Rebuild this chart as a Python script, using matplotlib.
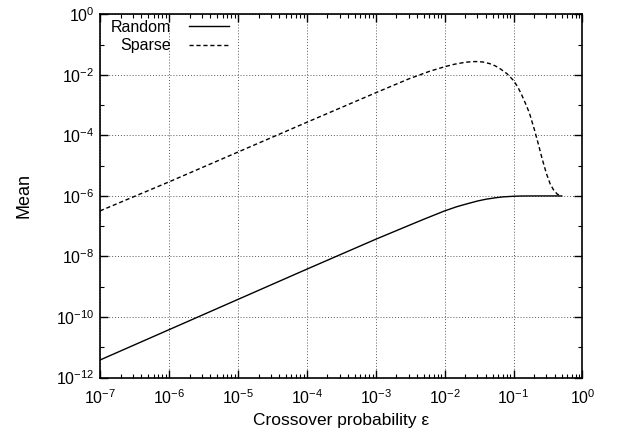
import matplotlib
matplotlib.use('Agg')
import matplotlib.pyplot as plt
from matplotlib.ticker import LogLocator, FixedLocator, NullFormatter

plt.rcParams['font.family'] = ['Liberation Sans', 'DejaVu Sans']
plt.rcParams['mathtext.default'] = 'regular'

# values (log-log plot)
random_x = [1e-7, 1e-6, 1e-5, 1e-4, 1e-3, 3e-3, 5e-3, 1e-2, 1.5e-2, 2e-2, 3e-2, 4e-2,
            5.5e-2, 7e-2, 0.1, 0.13, 0.2, 0.3, 0.5]
random_y = [3.8e-12, 3.8e-11, 3.8e-10, 3.8e-9, 3.7e-8, 1.05e-7, 1.7e-7, 3.2e-7, 4.4e-7,
            5.3e-7, 6.8e-7, 7.8e-7, 8.7e-7, 9.3e-7, 9.75e-7, 9.95e-7, 1e-6, 1e-6, 1e-6]

sparse_x = [1e-7, 1e-6, 1e-5, 1e-4, 1e-3, 3e-3, 6e-3, 1e-2, 1.4e-2, 2e-2, 2.5e-2, 3e-2,
            3.6e-2, 4.5e-2, 5.5e-2, 6.5e-2, 8e-2, 0.1, 0.115, 0.13, 0.15, 0.17, 0.2,
            0.23, 0.26, 0.3, 0.34, 0.38, 0.43, 0.48, 0.5]
sparse_y = [3.2e-7, 2.9e-6, 2.8e-5, 2.7e-4, 2.55e-3, 7.3e-3, 1.3e-2, 1.85e-2, 2.25e-2,
            2.6e-2, 2.72e-2, 2.75e-2, 2.65e-2, 2.35e-2, 1.95e-2, 1.55e-2, 1.1e-2, 6.5e-3,
            4.0e-3, 2.3e-3, 1.1e-3, 5.5e-4, 1.6e-4, 5e-5, 1.7e-5, 5.5e-6, 2.5e-6, 1.6e-6,
            1.15e-6, 1.02e-6, 1e-6]

x_ticks = [1e-7, 1e-6, 1e-5, 1e-4, 1e-3, 1e-2, 1e-1, 1e0]
x_labels = ['-7', '-6', '-5', '-4', '-3', '-2', '-1', '0']
y_ticks = [1e-12, 1e-10, 1e-8, 1e-6, 1e-4, 1e-2, 1e0]
y_labels = ['-12', '-10', '-8', '-6', '-4', '-2', '0']

fs = 11.5
fig = plt.figure(figsize=(6.17, 4.33), dpi=100)
ax = fig.add_axes([0.162, 0.128, 0.782, 0.839])

ax.plot(random_x, random_y, color='black', lw=1.0, label='Random')
ax.plot(sparse_x, sparse_y, color='black', lw=1.0, linestyle=(0, (3, 2)), label='Sparse')

ax.set_xscale('log')
ax.set_yscale('log')
ax.set_xlim(1e-7, 1)
ax.set_ylim(1e-12, 1)

ax.set_xticks(x_ticks)
ax.set_xticklabels(['$10^{%s}$' % s for s in x_labels], fontsize=fs)
ax.set_yticks(y_ticks)
ax.set_yticklabels(['$10^{%s}$' % s for s in y_labels], fontsize=fs)
ax.xaxis.set_minor_locator(LogLocator(base=10, subs=range(2, 10), numticks=50))
ax.xaxis.set_minor_formatter(NullFormatter())
ax.yaxis.set_minor_locator(FixedLocator([10.0 ** k for k in range(-11, 0, 2)]))
ax.yaxis.set_minor_formatter(NullFormatter())

ax.tick_params(which='both', direction='in', top=True, right=True, color='black')
ax.tick_params(which='major', length=6, width=1.0)
ax.tick_params(which='minor', length=3, width=0.8)
ax.tick_params(axis='x', which='major', pad=8)
ax.tick_params(axis='y', which='major', pad=4)
for lbl in ax.get_yticklabels():
    lbl.set_va('center_baseline')

ax.grid(True, which='major', color='0.35', linestyle=(0, (1, 2)), lw=0.7)
for sp in ax.spines.values():
    sp.set_linewidth(1.2)

ax.set_xlabel('Crossover probability ε', fontsize=12.5, labelpad=4)
ax.set_ylabel('Mean', fontsize=13, labelpad=17)

ax.legend(loc='upper left', bbox_to_anchor=(0.0, 1.015), frameon=False, markerfirst=False,
          fontsize=11.5, handlelength=2.5, handletextpad=1.1, labelspacing=0.2,
          borderaxespad=0.3)

fig.savefig('out.png', dpi=100)
